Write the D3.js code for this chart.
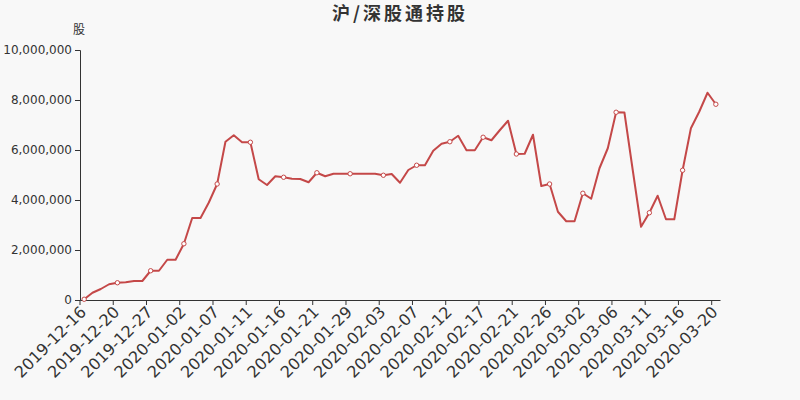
<!DOCTYPE html>
<html><head><meta charset="utf-8">
<script src="https://cdn.jsdelivr.net/npm/d3@7/dist/d3.min.js"></script>
<style>
html,body{margin:0;padding:0;background:#f8f8f8;}
svg{display:block;font-family:"DejaVu Sans","Noto Sans CJK SC",sans-serif;}
</style></head>
<body><svg id="c" width="800" height="400"></svg>
<script>
const titleText = "沪/深股通持股";
const yName = "股";
const dates = [
"2019-12-16","2019-12-17","2019-12-18","2019-12-19","2019-12-20","2019-12-23","2019-12-24","2019-12-26",
"2019-12-27","2019-12-30","2019-12-31","2020-01-01","2020-01-02","2020-01-03","2020-01-04","2020-01-06",
"2020-01-07","2020-01-08","2020-01-09","2020-01-10","2020-01-11","2020-01-13","2020-01-14","2020-01-15",
"2020-01-16","2020-01-17","2020-01-18","2020-01-20","2020-01-21","2020-01-22","2020-01-23","2020-01-24",
"2020-01-29","2020-01-30","2020-01-31","2020-02-01","2020-02-03","2020-02-04","2020-02-05","2020-02-06",
"2020-02-07","2020-02-08","2020-02-10","2020-02-11","2020-02-12","2020-02-13","2020-02-14","2020-02-15",
"2020-02-17","2020-02-18","2020-02-19","2020-02-20","2020-02-21","2020-02-22","2020-02-24","2020-02-25",
"2020-02-26","2020-02-27","2020-02-28","2020-02-29","2020-03-02","2020-03-03","2020-03-04","2020-03-05",
"2020-03-06","2020-03-07","2020-03-09","2020-03-10","2020-03-11","2020-03-12","2020-03-13","2020-03-14",
"2020-03-16","2020-03-17","2020-03-18","2020-03-19","2020-03-20"];
const holdings = [
30000,290000,440000,630000,690000,710000,760000,760000,
1170000,1170000,1610000,1610000,2250000,3280000,3280000,3900000,
4640000,6330000,6590000,6310000,6310000,4830000,4600000,4950000,
4910000,4850000,4840000,4710000,5090000,4950000,5050000,5050000,
5050000,5050000,5050000,5050000,4990000,5040000,4690000,5200000,
5390000,5390000,5970000,6250000,6330000,6570000,5990000,5990000,
6510000,6390000,6790000,7170000,5840000,5850000,6610000,4560000,
4640000,3530000,3150000,3150000,4270000,4050000,5270000,6070000,
7510000,7500000,5200000,2930000,3490000,4170000,3230000,3230000,
5190000,6870000,7530000,8290000,7830000];
const yTicks = [0,2000000,4000000,6000000,8000000,10000000];

const svg = d3.select("#c");
const L=80,R=720,T=50,B=300;
const col = "#c44848";
const x = d3.scaleBand().domain(dates).range([L,R]).padding(0);
const bw = x.bandwidth();
const y = d3.scaleLinear().domain([0,10000000]).range([B,T]);

svg.append("text").attr("x",400).attr("y",20).attr("text-anchor","middle")
  .attr("font-size",18).attr("font-weight","bold").attr("fill","#333")
  .attr("letter-spacing","3px").attr("font-family","'Noto Sans CJK SC',sans-serif").text(titleText);
svg.append("text").attr("x",79).attr("y",34).attr("text-anchor","middle")
  .attr("font-size",12).attr("fill","#333").attr("font-family","'Noto Sans CJK SC',sans-serif").text(yName);

// y axis
const ya = svg.append("g").attr("transform",`translate(${L},0)`)
  .call(d3.axisLeft(y).tickValues(yTicks).tickSize(5).tickPadding(3).tickFormat(d3.format(",")));
ya.selectAll("path,line").attr("stroke","#333");
ya.selectAll("text").attr("font-size",12).attr("fill","#333").attr("font-family","'DejaVu Sans',sans-serif");

// x axis
const shown = dates.filter((d,i)=>i%4===0);
const xa = svg.append("g").attr("transform",`translate(0,${B})`)
  .call(d3.axisBottom(x).tickValues(shown).tickSize(5).tickSizeOuter(0));
xa.select("path").attr("stroke","#333");
xa.selectAll(".tick line").attr("stroke","#333").attr("transform",`translate(${-bw/2},0)`);
xa.selectAll(".tick text").attr("font-size",16).attr("fill","#333").attr("font-family","'DejaVu Sans',sans-serif")
  .attr("text-anchor","end").attr("y",0).attr("dy","0.35em")
  .attr("transform","translate(-1,9) rotate(-45)");

// line
const pts = dates.map((d,i)=>({d,v:holdings[i],i}));
svg.append("path").datum(pts).attr("fill","none").attr("stroke",col).attr("stroke-width",2)
  .attr("stroke-linejoin","round")
  .attr("d",d3.line().x(p=>x(p.d)+bw/2).y(p=>y(p.v)));
svg.selectAll("circle.m").data(pts.filter(p=>p.i%4===0)).join("circle").attr("class","m")
  .attr("cx",p=>x(p.d)+bw/2).attr("cy",p=>y(p.v)).attr("r",2.2)
  .attr("fill","#fff").attr("stroke",col).attr("stroke-width",1);
</script></body></html>
